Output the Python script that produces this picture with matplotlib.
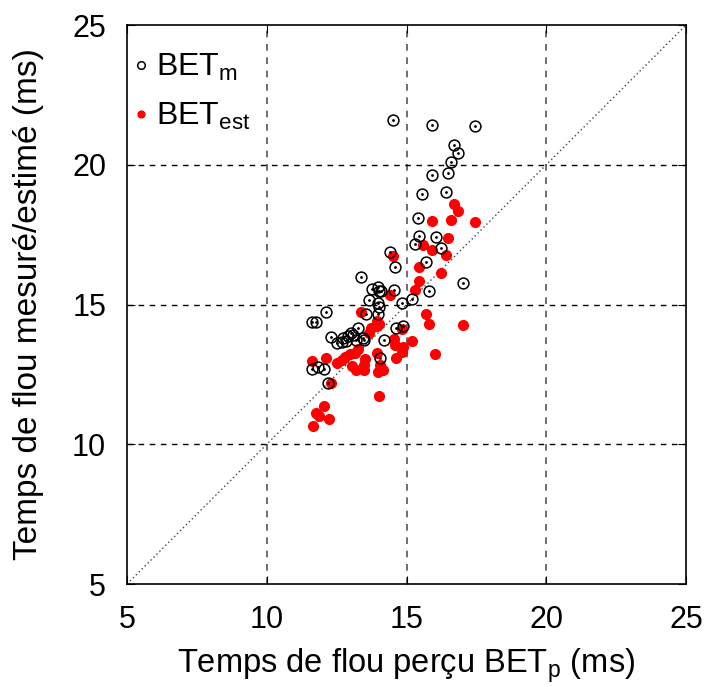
import matplotlib.pyplot as plt

plt.rcParams['font.family'] = ['Liberation Sans', 'DejaVu Sans']

# perceived blur time (x) and measured / estimated blur time (y), in ms
bet_p_m = [14.52, 15.90, 17.46, 16.70, 16.83, 16.60, 15.92, 16.48, 15.57, 16.42,
           15.42, 15.43, 16.04, 15.32, 16.25, 14.41, 14.58, 15.71, 13.36, 17.01,
           13.75, 13.97, 14.03, 14.08, 14.56, 15.79, 13.66, 13.99, 14.01, 14.83,
           15.20, 12.13, 13.55, 13.99, 11.62, 11.76, 13.25, 14.89, 14.62, 13.01,
           13.10, 12.92, 12.74, 13.46, 13.48, 13.19, 12.30, 12.50, 12.68, 12.83,
           14.19, 14.05, 11.62, 11.84, 12.06, 12.20]
bet_m = [21.60, 21.42, 21.39, 20.70, 20.43, 20.09, 19.65, 19.69, 18.95, 19.01,
         18.08, 17.45, 17.40, 17.15, 17.02, 16.89, 16.33, 16.51, 15.98, 15.78,
         15.56, 15.61, 15.49, 15.47, 15.52, 15.48, 15.15, 15.04, 14.92, 15.04,
         15.19, 14.73, 14.65, 14.65, 14.36, 14.37, 14.16, 14.23, 14.15, 13.99,
         13.91, 13.87, 13.79, 13.79, 13.73, 13.73, 13.83, 13.64, 13.67, 13.70,
         13.73, 13.08, 12.69, 12.77, 12.70, 12.18]

bet_p_est = [16.71, 16.83, 15.90, 16.60, 17.46, 15.58, 16.48, 15.92, 16.42, 14.50,
             15.43, 16.25, 15.45, 15.32, 14.41, 13.36, 15.71, 15.79, 17.01, 13.96,
             14.03, 13.96, 13.73, 14.83, 13.66, 14.56, 15.18, 14.59, 14.89, 14.83,
             16.03, 13.25, 12.98, 13.16, 12.80, 12.68, 12.50, 13.96, 14.61, 13.52,
             13.48, 13.48, 13.19, 13.04, 14.05, 14.17, 13.99, 12.12, 11.62, 12.30,
             14.02, 12.06, 11.76, 11.88, 12.23, 11.64]
bet_est = [18.60, 18.35, 17.99, 18.02, 17.95, 17.13, 17.38, 16.96, 16.78, 16.74,
           16.35, 16.14, 15.84, 15.51, 15.34, 14.73, 14.65, 14.29, 14.26, 14.41,
           14.29, 14.23, 14.15, 14.11, 13.97, 13.75, 13.70, 13.55, 13.49, 13.31,
           13.23, 13.40, 13.23, 13.25, 13.13, 13.01, 12.92, 13.28, 13.08, 13.04,
           12.84, 12.66, 12.66, 12.80, 12.84, 12.66, 12.60, 13.10, 12.98, 12.18,
           11.73, 11.38, 11.13, 11.01, 10.89, 10.66]

fig = plt.figure(figsize=(7.1, 6.87), dpi=100)
ax = fig.add_axes([0.1789, 0.1499, 0.7873, 0.8137])

ticks = [5, 10, 15, 20, 25]
for t in ticks[1:-1]:
    ax.axvline(t, color='#555555', ls=(0, (4, 4)), lw=1.2, zorder=1)
    ax.axhline(t, color='black', ls=(0, (4, 4)), lw=1.0, zorder=1)
ax.plot([5, 25], [5, 25], color='#444444', ls=(0, (1, 2)), lw=1.0, zorder=1)

ax.plot(bet_p_m, bet_m, 'o', ms=7.8, mfc='none', mec='black', mew=1.1, zorder=3,
        label=r'BET$_\mathregular{m}$')
ax.plot(bet_p_m, bet_m, 'o', ms=1.0, color='black', zorder=3)
ax.plot(bet_p_est, bet_est, 'o', ms=7, color='#ff0000', mec='#ff0000', zorder=2,
        label=r'BET$_\mathregular{est}$')

ax.set_xlim(5, 25)
ax.set_ylim(5, 25)
ax.set_xticks(ticks)
ax.set_yticks(ticks)
ax.tick_params(direction='in', length=6, labelsize=22, top=True, right=True, pad=15)
for s in ax.spines.values():
    s.set_linewidth(1.2)

ax.set_xlabel(r'Temps de flou perçu BET$_\mathregular{p}$ (ms)', fontsize=23.5, labelpad=8)
ax.set_ylabel('Temps de flou mesuré/estimé (ms)', fontsize=24, labelpad=20)

leg = ax.legend(loc='upper left', bbox_to_anchor=(0.007, 0.952), frameon=False,
                fontsize=23, markerscale=0.7, handlelength=0.6, handletextpad=0.2,
                borderaxespad=0, borderpad=0, labelspacing=0.55)

fig.savefig('out.png', dpi=100)
